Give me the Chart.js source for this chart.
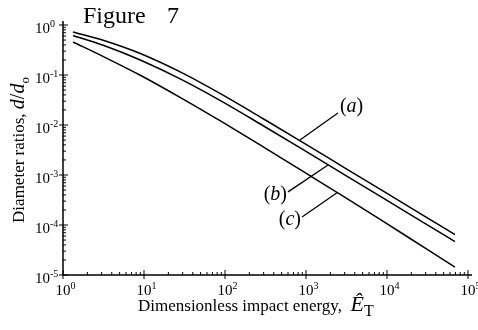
<!DOCTYPE html>
<html>
<head>
<meta charset="utf-8">
<script src="https://cdn.jsdelivr.net/npm/chart.js@4.4.1/dist/chart.umd.min.js"></script>
<style>
  body { margin: 0; background: #fff; }
  #wrap { width: 478px; height: 330px; }
</style>
</head>
<body>
<div id="wrap"><canvas id="fig7" width="478" height="330"></canvas></div>
<script>
// Dimensionless impact energy (x) and diameter ratio d/d0 of the three curves
const energy = [1.33, 3.2, 9, 30, 90, 300, 900, 3000, 9000, 30000, 69000];
const ratioA = [0.724, 0.489, 0.2685, 0.1089, 0.0414, 0.01318, 0.00454, 0.001393, 4.75e-4, 1.459e-4, 6.44e-5];
const ratioB = [0.617, 0.388, 0.199, 0.0789, 0.0300, 0.00955, 0.00329, 0.00101, 3.44e-4, 1.057e-4, 4.67e-5];
const ratioC = [0.457, 0.2307, 0.0989, 0.0334, 0.01178, 0.00361, 0.001205, 3.61e-4, 1.178e-4, 3.40e-5, 1.44e-5];

// decade exponents of the tick labels
const xTickExps = [0, 1, 2, 3, 4, 5];
const yTickExps = [0, -1, -2, -3, -4, -5];

// curve labels, with the leader line from a point on the curve to the label
const curveNames = ['a', 'b', 'c'];
const leaderFrom = [[843, 0.005], [1870, 0.00158], [2415, 4.4e-4]];
const leaderTo = [[2480, 0.0174], [600, 4.6e-4], [893, 1.45e-4]];

const SERIF = '"Liberation Serif", "Times New Roman", serif';

function toPoints(ys) {
    return energy.map((e, i) => ({ x: e, y: ys[i] }));
}

// draw a run of text pieces with their own fonts and baseline shifts
function drawRuns(ctx, runs, x, y, align) {
    let total = 0;
    runs.forEach(r => { ctx.font = r.font; total += ctx.measureText(r.t).width; });
    let cx = align === 'center' ? x - total / 2 : align === 'right' ? x - total : x;
    ctx.textAlign = 'left';
    ctx.textBaseline = 'alphabetic';
    runs.forEach(r => {
        ctx.font = r.font;
        ctx.fillText(r.t, cx, y + (r.dy || 0));
        cx += ctx.measureText(r.t).width;
    });
}

const figurePlugin = {
    id: 'figurePlugin',
    afterDraw(chart) {
        const ctx = chart.ctx;
        const xs = chart.scales.x, ys = chart.scales.y;
        const area = chart.chartArea;
        ctx.save();
        ctx.strokeStyle = '#000';
        ctx.fillStyle = '#000';
        ctx.lineWidth = 1.5;

        // axis lines
        ctx.beginPath();
        ctx.moveTo(area.left, area.top - 4);
        ctx.lineTo(area.left, area.bottom);
        ctx.lineTo(area.right + 4, area.bottom);
        ctx.stroke();

        // ticks: majors cross the axis, minors point inwards
        ctx.lineWidth = 1;
        ctx.beginPath();
        xTickExps.forEach(p => {
            const px = xs.getPixelForValue(Math.pow(10, p));
            ctx.moveTo(px, area.bottom - 5);
            ctx.lineTo(px, area.bottom + 4);
            if (p < 5) {
                for (let k = 2; k < 10; k++) {
                    const mx = xs.getPixelForValue(k * Math.pow(10, p));
                    ctx.moveTo(mx, area.bottom);
                    ctx.lineTo(mx, area.bottom - 3);
                }
            }
        });
        yTickExps.forEach(p => {
            const py = ys.getPixelForValue(Math.pow(10, p));
            ctx.moveTo(area.left - 4, py);
            ctx.lineTo(area.left + 5, py);
            if (p > -5) {
                for (let k = 2; k < 10; k++) {
                    const my = ys.getPixelForValue(k * Math.pow(10, p - 1));
                    ctx.moveTo(area.left, my);
                    ctx.lineTo(area.left + 3, my);
                }
            }
        });
        ctx.stroke();

        // tick labels as 10 with a raised exponent
        const base = '15px ' + SERIF, sup = '10px ' + SERIF;
        xTickExps.forEach(p => {
            const px = xs.getPixelForValue(Math.pow(10, p));
            ctx.font = base;
            const w = ctx.measureText('10').width;
            drawRuns(ctx, [{ t: '10', font: base }, { t: String(p), font: sup, dy: -6 }], px - w / 2, area.bottom + 20, 'left');
        });
        yTickExps.forEach(p => {
            const py = ys.getPixelForValue(Math.pow(10, p));
            ctx.font = base;
            const w = ctx.measureText('10').width;
            drawRuns(ctx, [{ t: '10', font: base }, { t: String(p), font: sup, dy: -6 }], 50 - w, py + 8, 'left');
        });

        // curve labels with leader lines
        ctx.lineWidth = 1.3;
        curveNames.forEach((n, i) => {
            const x0 = xs.getPixelForValue(leaderFrom[i][0]), y0 = ys.getPixelForValue(leaderFrom[i][1]);
            const x1 = xs.getPixelForValue(leaderTo[i][0]), y1 = ys.getPixelForValue(leaderTo[i][1]);
            ctx.beginPath();
            ctx.moveTo(x0, y0);
            ctx.lineTo(x1, y1);
            ctx.stroke();
            const runs = [
                { t: '(', font: '20px ' + SERIF },
                { t: n, font: 'italic 20px ' + SERIF },
                { t: ')', font: '20px ' + SERIF }
            ];
            if (x1 > x0) drawRuns(ctx, runs, x1 + 2, y1 - 1, 'left');
            else drawRuns(ctx, runs, x1 - 1, y1 + 8, 'right');
        });

        // figure title
        drawRuns(ctx, [{ t: 'Figure', font: '24px ' + SERIF }], 83, 23, 'left');
        drawRuns(ctx, [{ t: '7', font: '24px ' + SERIF }], 167, 23, 'left');

        // x axis title
        drawRuns(ctx, [
            { t: 'Dimensionless impact energy,  ', font: '17px ' + SERIF },
            { t: 'Ê', font: 'italic 22px ' + SERIF },
            { t: 'T', font: '16px ' + SERIF, dy: 5 }
        ], 138, 311, 'left');

        // y axis title, rotated
        ctx.translate(24, 150);
        ctx.rotate(-Math.PI / 2);
        drawRuns(ctx, [
            { t: 'Diameter ratios, ', font: '17px ' + SERIF },
            { t: 'd', font: 'italic 20px ' + SERIF },
            { t: '/', font: '20px ' + SERIF },
            { t: 'd', font: 'italic 20px ' + SERIF },
            { t: 'o', font: '13px ' + SERIF, dy: 5 }
        ], 0, 0, 'center');
        ctx.restore();
    }
};

const lineStyle = {
    borderColor: '#000',
    borderWidth: 1.5,
    pointRadius: 0,
    fill: false,
    cubicInterpolationMode: 'monotone'
};

new Chart(document.getElementById('fig7'), {
    type: 'line',
    data: {
        datasets: [
            { label: '(a)', data: toPoints(ratioA), ...lineStyle },
            { label: '(b)', data: toPoints(ratioB), ...lineStyle },
            { label: '(c)', data: toPoints(ratioC), ...lineStyle }
        ]
    },
    options: {
        responsive: false,
        animation: false,
        layout: { padding: { left: 63, right: 10, top: 25, bottom: 55 } },
        plugins: { legend: { display: false }, tooltip: { enabled: false } },
        scales: {
            x: { type: 'logarithmic', min: 1, max: 1e5, display: false },
            y: { type: 'logarithmic', min: 1e-5, max: 1, display: false }
        }
    },
    plugins: [figurePlugin]
});
</script>
</body>
</html>
